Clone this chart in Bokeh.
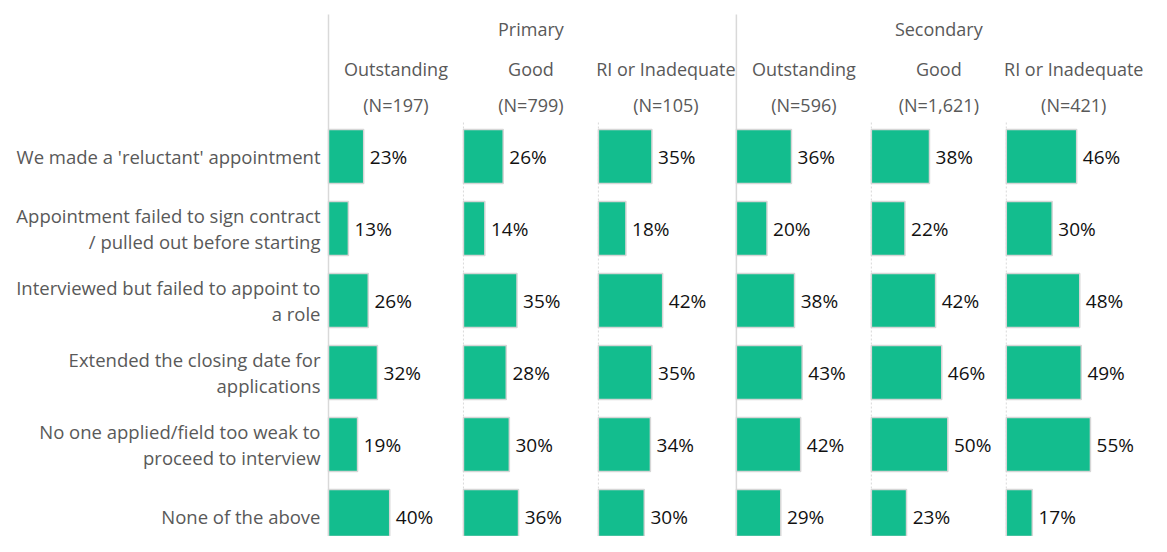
from bokeh.plotting import figure
from bokeh.models import Range1d, ColumnDataSource
from bokeh.embed import file_html
from bokeh.resources import INLINE
from bokeh.core.properties import value

categories = [
    "We made a 'reluctant' appointment",
    "Appointment failed to sign contract\n/ pulled out before starting",
    "Interviewed but failed to appoint to\na role",
    "Extended the closing date for\napplications",
    "No one applied/field too weak to\nproceed to interview",
    "None of the above",
]
groups = ["Primary", "Secondary"]
ratings = ["Outstanding", "Good", "RI or Inadequate"]
sample_sizes = [["(N=197)", "(N=799)", "(N=105)"], ["(N=596)", "(N=1,621)", "(N=421)"]]

primary_outstanding = [23, 13, 26, 32, 19, 40]
primary_good = [26, 14, 35, 28, 30, 36]
primary_ri = [35, 18, 42, 35, 34, 30]
secondary_outstanding = [36, 20, 38, 43, 42, 29]
secondary_good = [38, 22, 42, 46, 50, 23]
secondary_ri = [46, 30, 48, 49, 55, 17]
series = [[primary_outstanding, primary_good, primary_ri],
          [secondary_outstanding, secondary_good, secondary_ri]]

W, H = 1151, 536
PX_PER_PCT = 1.53
LEFT_PX = 328
ROW_PX = 72
FIRST_ROW_PX = 156
PANEL_W = 88.2
GROUP_GAP = 2.0

x0 = -LEFT_PX / PX_PER_PCT
y_top = -FIRST_ROW_PX / ROW_PX
y_bot = y_top + H / ROW_PX

p = figure(width=W, height=H, output_backend="svg", toolbar_location=None,
           x_range=Range1d(x0, x0 + W / PX_PER_PCT), y_range=Range1d(y_bot, y_top),
           min_border=0, min_border_left=0, min_border_right=0, min_border_top=0, min_border_bottom=0)
p.axis.visible = False
p.grid.visible = False
p.outline_line_color = None
p.background_fill_color = "white"

FONT = value("Open Sans")
GRAY = "#595959"
FS = "18px"

def py(px):
    return y_top + px / ROW_PX

rows = list(range(len(categories)))

# category labels
p.text(x=[-8 / PX_PER_PCT] * len(rows), y=rows, text=categories,
       text_align="right", text_baseline="middle", text_font=FONT,
       text_font_size="18.5px", text_color=GRAY, text_line_height=1.04)

for g, gname in enumerate(groups):
    gstart = g * (3 * PANEL_W + GROUP_GAP)
    p.segment(x0=[gstart], y0=[py(14)], x1=[gstart], y1=[y_bot],
              line_color="#d9d9d9", line_width=1.5)
    p.text(x=[gstart + 1.5 * PANEL_W], y=[py(28)], text=[gname], text_align="center",
           text_baseline="middle", text_font=FONT, text_font_size=FS, text_color=GRAY)
    for j, rname in enumerate(ratings):
        off = gstart + j * PANEL_W
        if j > 0:
            p.segment(x0=[off], y0=[py(122)], x1=[off], y1=[y_bot],
                      line_color="#d9d9d9", line_width=1, line_dash="2 2")
        p.text(x=[off + PANEL_W / 2], y=[py(68)], text=[rname], text_align="center",
               text_baseline="middle", text_font=FONT, text_font_size=FS, text_color=GRAY)
        p.text(x=[off + PANEL_W / 2], y=[py(104)], text=[sample_sizes[g][j]], text_align="center",
               text_baseline="middle", text_font=FONT, text_font_size=FS, text_color=GRAY)
        vals = series[g][j]
        src = ColumnDataSource(dict(
            y=rows,
            left=[off] * len(rows),
            right=[off + v for v in vals],
            lx=[off + v + 4 for v in vals],
            lab=[f"{v}%" for v in vals],
        ))
        p.hbar(y="y", left="left", right="right", height=0.75, source=src,
               fill_color="#13BD8E", line_color="#d6d6d6", line_width=1.5)
        p.text(x="lx", y="y", text="lab", source=src, text_align="left",
               text_baseline="middle", text_font=FONT, text_font_size="19px", text_color="#111111")

open("out.html", "w").write(file_html(p, INLINE))
